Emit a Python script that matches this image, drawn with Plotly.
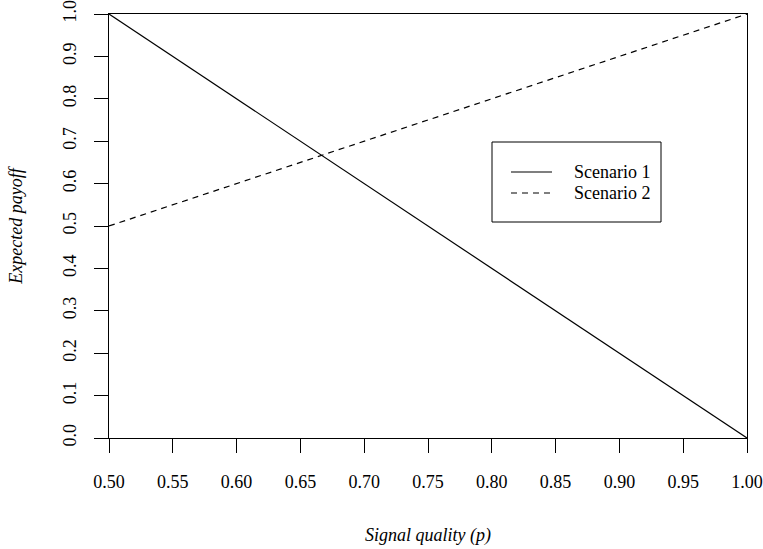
import plotly.graph_objects as go

p = [0.5, 1.0]
scenario1 = [1.0, 0.0]
scenario2 = [0.5, 1.0]
names = ["Scenario 1", "Scenario 2"]
dashes = ["solid", "6px,5px"]

FONT = "Liberation Serif"

W, H = 763, 549
PL, PR, PT, PB = 109, 747, 14, 438


def px_x(v):
    return (v - PL) / (PR - PL)


def px_y(v):
    return (PB - v) / (PB - PT)


fig = go.Figure()
for yv, nm, ds in zip([scenario1, scenario2], names, dashes):
    fig.add_trace(go.Scatter(x=p, y=yv, mode="lines", name=nm, showlegend=False,
                             line=dict(color="black", width=1.2, dash=ds)))

# legend box
fig.add_shape(type="rect", xref="paper", yref="paper",
              x0=px_x(492), x1=px_x(661), y0=px_y(222), y1=px_y(142),
              line=dict(color="black", width=1), fillcolor="white", layer="below")
for i, (nm, ds) in enumerate(zip(names, dashes)):
    yy = 172 + 21 * i
    fig.add_shape(type="line", xref="paper", yref="paper",
                  x0=px_x(511), x1=px_x(552), y0=px_y(yy), y1=px_y(yy),
                  line=dict(color="black", width=1.2, dash=ds))
    fig.add_annotation(xref="paper", yref="paper", x=px_x(572), y=px_y(yy),
                       xanchor="left", yanchor="middle", showarrow=False,
                       text=nm, font=dict(family=FONT, size=18, color="black"))

fig.update_layout(
    width=W, height=H,
    margin=dict(l=PL, r=W - PR, t=PT, b=H - PB, autoexpand=False),
    paper_bgcolor="white", plot_bgcolor="white",
    font=dict(family=FONT, size=18, color="black"),
    showlegend=False,
)
fig.update_xaxes(range=[0.5, 1.0], dtick=0.05, tick0=0.5, tickformat=".2f",
                 showgrid=False, zeroline=False, automargin=False,
                 showline=True, linecolor="black", linewidth=1, mirror=True,
                 ticks="outside", ticklen=14, tickcolor="black", tickwidth=1,
                 ticklabelstandoff=13, ticklabeloverflow="allow",
                 tickfont=dict(family=FONT, size=18),
                 title=dict(text="Signal quality (p)", standoff=37,
                            font=dict(family=FONT, size=18, style="italic")))
fig.update_yaxes(range=[0.0, 1.0], dtick=0.1, tick0=0.0, tickformat=".1f",
                 showgrid=False, zeroline=False, automargin=False,
                 showline=True, linecolor="black", linewidth=1, mirror=True,
                 ticks="outside", ticklen=14, tickcolor="black", tickwidth=1,
                 tickangle=-90, ticklabelstandoff=11, ticklabeloverflow="allow",
                 tickfont=dict(family=FONT, size=18),
                 title=dict(text="Expected payoff", standoff=32,
                            font=dict(family=FONT, size=18, style="italic")))

fig.write_html("out.html", config={"displayModeBar": False},
               post_script="document.body.style.margin='0';document.body.style.overflow='hidden';")
